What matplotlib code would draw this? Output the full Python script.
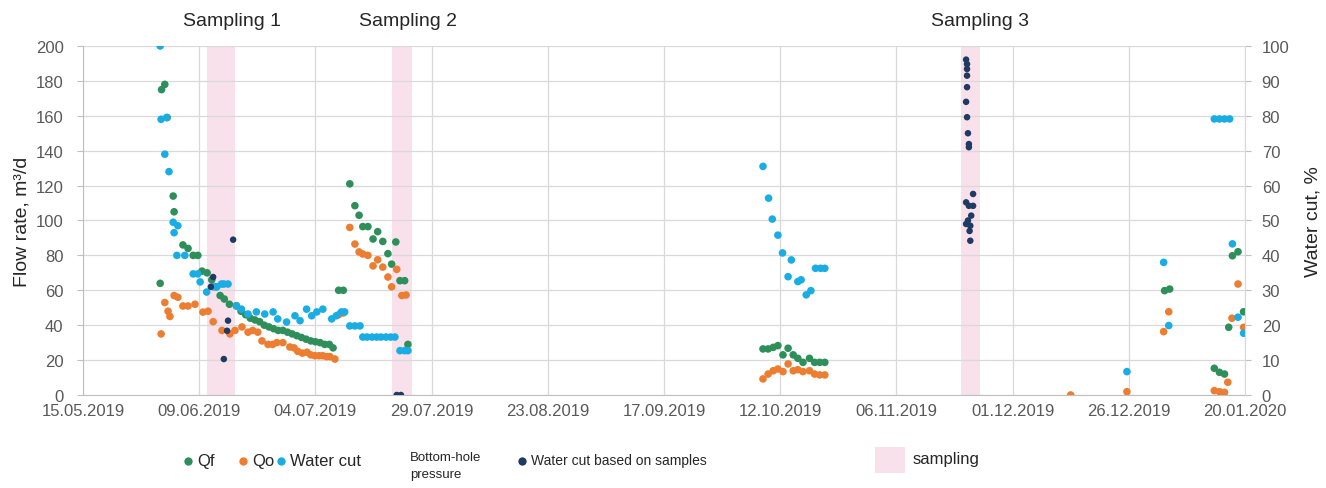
import numpy as np
import pandas as pd
import matplotlib
matplotlib.use("Agg")
import matplotlib.pyplot as plt
import matplotlib.dates as mdates
from matplotlib.lines import Line2D
from matplotlib.patches import Rectangle

plt.rcParams['font.family'] = ['Liberation Sans', 'DejaVu Sans']

start = pd.Timestamp('2019-05-15')

# days since 15.05.2019 and measured values
qf_days = [16.6, 16.9, 17.6, 18.1, 19.4, 19.6, 21.5, 22.6, 23.7, 24.7, 25.6, 26.7,
           27.7, 28.6, 29.5, 30.4, 31.5, 33.0, 34.0, 35.0, 36.0, 37.0, 38.0, 39.0,
           40.0, 41.0, 42.0, 43.0, 44.0, 45.0, 46.0, 47.0, 48.0, 49.0, 50.0, 51.0,
           52.0, 53.0, 53.8, 55.0, 56.0,
           57.4, 58.5, 59.4, 60.2, 61.3, 62.4, 63.4, 64.5, 65.6, 66.4, 67.3, 68.2,
           69.2, 69.9,
           146.3, 147.4, 148.5, 149.5, 150.6, 151.7, 152.8, 153.8, 154.9, 156.3,
           157.4, 158.5, 159.6,
           232.7, 233.8, 243.4, 244.5, 245.6, 246.5, 247.3, 248.5, 249.7]
qf = [64, 175, 178, 159, 114, 105, 86, 84, 80, 80, 71, 70,
      66, 62, 57, 55, 52, 51, 48, 46, 44, 43, 42, 40,
      39, 38, 37, 37, 36, 35, 34, 33, 32, 31, 30.5, 30,
      29, 29, 27, 60, 60,
      121, 108.5, 103, 96.5, 96.5, 89.4, 93.6, 88, 81, 75, 87.7, 65.5,
      65.5, 29,
      26.4, 26.4, 27.3, 28.3, 23, 26.8, 23, 21, 18.7, 21,
      18.7, 18.7, 18.7,
      59.8, 60.7, 15.3, 13, 12, 38.8, 79.8, 82.1, 47.7]

qo_days = [16.8, 17.6, 18.3, 18.7, 19.6, 20.4, 21.5, 22.6, 24.1, 25.8, 26.9, 28.0,
           29.9, 31.6, 32.7, 34.2, 35.5, 36.5, 37.6, 38.5, 39.8, 40.8, 41.7, 43.0,
           44.5, 45.4, 46.2, 47.2, 48.2, 49.0, 49.9, 50.8, 51.6, 52.4, 53.1, 54.2,
           55.0, 56.0,
           57.4, 58.5, 59.4, 60.2, 61.3, 62.4, 63.4, 64.5, 65.6, 66.4, 67.5, 68.6,
           69.5,
           146.3, 147.4, 148.5, 149.5, 150.6, 151.7, 152.8, 153.8, 154.9, 156.3,
           157.4, 158.5, 159.6,
           212.5, 224.6, 232.5, 233.6, 243.4, 244.5, 245.6, 246.3, 247.2, 248.5, 249.7]
qo = [35, 53, 48, 45, 57, 56, 51, 51, 52, 47.5, 48, 42,
      37, 35, 37, 39, 36, 37, 36, 31, 29, 29, 30, 30,
      27.5, 27, 25, 24, 24.5, 23, 22.5, 22.5, 22.5, 22, 22, 20.6,
      46, 47,
      96, 86.5, 82, 80.8, 80, 74, 77.5, 73.3, 67.6, 62, 72, 57,
      57.3,
      9.2, 12, 13.9, 14.9, 13.4, 17.8, 13.9, 14.5, 13.4, 13.9,
      12, 11.5, 11.5,
      0, 1.9, 36.3, 47.7, 2.5, 1.9, 1.5, 7.3, 44, 63.6, 38.8]

wc_days = [16.6, 16.8, 17.6, 18.0, 18.5, 19.4, 19.6, 20.2, 20.4, 21.9, 23.7, 24.7,
           25.2, 26.6, 28.0, 28.8, 29.8, 30.3, 31.2, 33.0, 34.1, 35.5, 37.3, 39.1,
           40.9, 41.9, 43.8, 45.6, 46.7, 48.1, 49.2, 50.3, 51.6, 53.5, 54.5, 55.6,
           56.3, 57.4, 58.5, 59.6, 60.2, 61.1, 62.2, 63.2, 64.1, 65.2, 66.2, 67.1,
           68.2, 69.2, 69.9,
           146.3, 147.5, 148.3, 149.5, 150.5, 151.7, 152.4, 153.8, 154.5, 155.6,
           156.6, 157.6, 158.7, 159.6,
           224.6, 232.5, 233.6, 243.4, 244.5, 245.6, 246.7, 247.3, 248.5, 249.7]
wc = [100, 79, 69, 79.5, 64, 49.5, 46.5, 40, 48.5, 40, 34.7, 34.7,
      32.4, 29.5, 31, 31, 31.8, 31.8, 31.8, 25.6, 24.6, 23.2, 23.8, 23.2,
      23.8, 21.8, 20.9, 22.7, 21.3, 24.6, 22.7, 23.8, 24.6, 21.8, 22.7, 23.8,
      23.8, 19.8, 19.8, 19.8, 16.6, 16.6, 16.6, 16.6, 16.6, 16.6, 16.6, 16.6,
      12.7, 12.7, 12.7,
      65.5, 56.4, 50.4, 45.8, 40.7, 33.9, 38.7, 32.5, 33, 28.7,
      29.9, 36.3, 36.3, 36.3,
      6.7, 38, 19.9, 79.1, 79.1, 79.1, 79.1, 43.3, 22.3, 17.7]

wc_lab_days = [27.5, 28.0, 30.3, 31.0, 31.2, 32.3,
               67.5, 68.4,
               190.0, 190.2, 190.2, 190.2, 190.2, 190.0, 190.2, 190.4, 190.6, 190.6,
               191.5, 190.0, 190.6, 191.5, 191.1, 190.4, 190.0, 190.9, 190.75, 190.9]
wc_lab = [31, 33.8, 10.3, 18.4, 21.3, 44.5,
          0, 0,
          96.1, 94.8, 93.4, 91.5, 88.2, 84, 79.6, 75, 71.9, 71,
          57.6, 55.2, 54.2, 54.2, 51.4, 50, 49, 48.5, 47, 44.2]

sampling_periods = [('2019-06-10 16:00', '2019-06-16 16:00'),
                    ('2019-07-20 11:00', '2019-07-24 18:00'),
                    ('2019-11-20 00:00', '2019-11-24 00:00')]
sampling_names = ['Sampling 1', 'Sampling 2', 'Sampling 3']
sampling_label_at = ['2019-06-16', '2019-07-24', '2019-11-24']

c_qf = '#2F8F5B'
c_qo = '#ED7D31'
c_wc = '#1AADE4'
c_lab = '#1F3B63'
c_band = '#F9E1EC'
c_grid = '#D9D9D9'
c_txt = '#595959'


def to_dates(days):
    return start + pd.to_timedelta(np.array(days), unit='D')


fig = plt.figure(figsize=(13.26, 4.89), dpi=100)
ax = fig.add_axes([0.0626, 0.1902, 0.8763, 0.7137])
ax2 = ax.twinx()

for a, b in sampling_periods:
    ax.axvspan(pd.Timestamp(a), pd.Timestamp(b), color=c_band, lw=0, zorder=0.5)

ax.scatter(to_dates(qf_days), qf, s=30, color=c_qf, edgecolors='none', zorder=3)
ax.scatter(to_dates(qo_days), qo, s=30, color=c_qo, edgecolors='none', zorder=3)
ax2.scatter(to_dates(wc_days), wc, s=30, color=c_wc, edgecolors='none', zorder=3)
ax2.scatter(to_dates(wc_lab_days), wc_lab, s=22, color=c_lab, edgecolors='none', zorder=4)

ax.set_xlim(start, start + pd.Timedelta(days=250))
ax.set_ylim(0, 200)
ax2.set_ylim(0, 100)
ax.set_yticks(np.arange(0, 201, 20))
ax2.set_yticks(np.arange(0, 101, 10))
ax.set_xticks(pd.date_range(start, periods=11, freq='25D'))
ax.xaxis.set_major_formatter(mdates.DateFormatter('%d.%m.%Y'))

ax.grid(True, color=c_grid, lw=0.9, zorder=0)
ax.set_axisbelow(True)
for s in ['top', 'right']:
    ax.spines[s].set_visible(False)
for s in ['top', 'left', 'bottom']:
    ax2.spines[s].set_visible(False)
ax.spines['left'].set_color('#BFBFBF')
ax.spines['bottom'].set_color('#BFBFBF')
ax2.spines['right'].set_color(c_grid)

ax.tick_params(axis='y', length=4, color='#BFBFBF', labelsize=12, labelcolor=c_txt, pad=10)
ax2.tick_params(axis='y', length=4, color='#BFBFBF', labelsize=12, labelcolor=c_txt, pad=8)
ax.tick_params(axis='x', length=0, labelsize=12, labelcolor=c_txt, pad=6)

ax.set_ylabel('Flow rate, m³/d', fontsize=14, color='#262626', labelpad=4)
ax2.set_ylabel('Water cut, %', fontsize=14, color='#262626', labelpad=11)

for name, at in zip(sampling_names, sampling_label_at):
    ax.text(pd.Timestamp(at), 1.072, name, transform=ax.get_xaxis_transform(),
            ha='center', va='center', fontsize=14, color='#262626')

# legend row under the axis
ly = 0.055
items = [(188, c_qf, 'Qf', 12), (243, c_qo, 'Qo', 12), (281, c_wc, 'Water cut', 12),
         (522, c_lab, 'Water cut based on samples', 10)]
for px, col, lab, fs in items:
    fig.add_artist(Line2D([px / 1326], [ly], marker='o', ms=6, color=col, mec='none',
                          transform=fig.transFigure))
    fig.text((px + 9) / 1326, ly + 0.002, lab, fontsize=fs, color='#262626',
             ha='left', va='center')
fig.text(410 / 1326, 1 - 452 / 489, 'Bottom-hole\npressure', fontsize=9.5,
         color='#262626', ha='left', va='top', linespacing=1.6)
fig.add_artist(Rectangle((875 / 1326, 1 - 474 / 489), 30 / 1326, 26 / 489,
                         color=c_band, lw=0, transform=fig.transFigure))
fig.text(913 / 1326, 1 - 460 / 489, 'sampling', fontsize=12, color='#262626',
         ha='left', va='center')

fig.savefig('out.png', dpi=100)
